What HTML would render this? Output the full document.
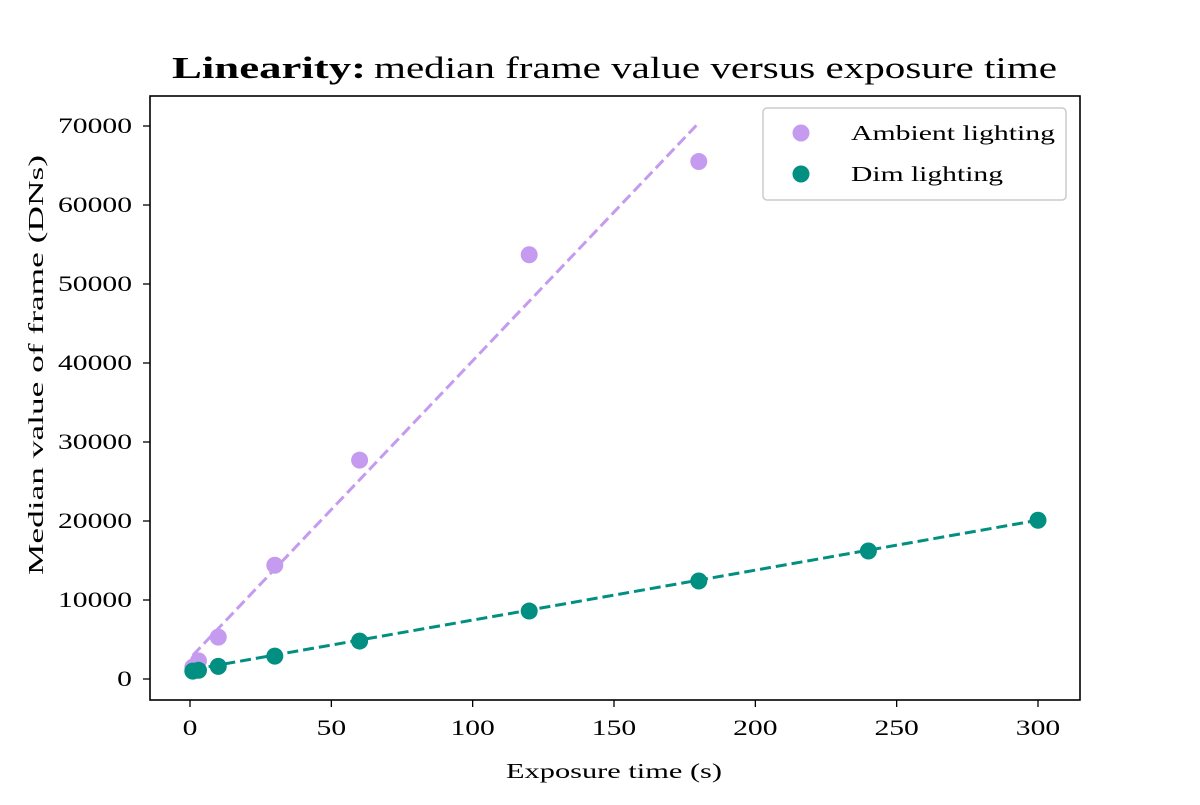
<!DOCTYPE html>
<html><head><meta charset="utf-8">
<style>
html,body{margin:0;padding:0;background:#fff;}
svg text{font-family:"Liberation Serif","DejaVu Serif",serif;fill:#000;}
</style></head>
<body>
<svg id="chart" width="1200" height="800" xmlns="http://www.w3.org/2000/svg">
<text y="78" font-size="31"><tspan x="172" font-weight="bold" textLength="194" lengthAdjust="spacingAndGlyphs">Linearity:</tspan><tspan x="374" textLength="683" lengthAdjust="spacingAndGlyphs">median frame value versus exposure time</tspan></text>
<g id="plot"></g>
<rect x="150" y="96" width="930" height="604" fill="none" stroke="#000" stroke-width="1.6"/>
<text x="506" y="778" font-size="21" textLength="216" lengthAdjust="spacingAndGlyphs">Exposure time (s)</text>
<text transform="translate(43,575) rotate(-90)" font-size="21" textLength="420" lengthAdjust="spacingAndGlyphs">Median value of frame (DNs)</text>
<g>
<rect x="763" y="108" width="303" height="92" rx="4" fill="#fff" stroke="#ccc" stroke-width="1.5"/>
<circle cx="801" cy="133" r="8.5" fill="#c59bf0"/>
<text x="851" y="140" font-size="21" textLength="204" lengthAdjust="spacingAndGlyphs">Ambient lighting</text>
<circle cx="801" cy="174" r="8.5" fill="#008f80"/>
<text x="851" y="181" font-size="21" textLength="152" lengthAdjust="spacingAndGlyphs">Dim lighting</text>
</g>
</svg>
<script>
const xTicks = [0,50,100,150,200,250,300];
const yTicks = [0,10000,20000,30000,40000,50000,60000,70000];
const ambientX = [1,3,10,30,60,120,180];
const ambientY = [1500,2300,5300,14400,27700,53700,65500];
const dimX = [1,3,10,30,60,120,180,240,300];
const dimY = [1000,1100,1600,2900,4800,8600,12400,16200,20100];
const ambientFitX = [1,180];
const ambientFitY = [3000,70400];
const dimFitX = [1,300];
const dimFitY = [1200,20100];

const NS='http://www.w3.org/2000/svg';
const sx = v => 190 + v*(1038-190)/300;
const sy = v => 679 - v*(679-126)/70000;
const g = document.getElementById('plot');
function mk(tag, attrs){const e=document.createElementNS(NS,tag);for(const k in attrs)e.setAttribute(k,attrs[k]);g.appendChild(e);return e;}
const DW = 14.8;

xTicks.forEach(t=>{
  const l=mk('line',{x1:sx(t),x2:sx(t),y1:700,y2:707,stroke:'#000','stroke-width':1.3});
  
  
  const n=String(t).length;
  const tx=mk('text',{x:sx(t)-n*DW/2,y:735,'font-size':22,textLength:n*DW,lengthAdjust:'spacingAndGlyphs'});
  tx.textContent=t;
  
  
});
yTicks.forEach(t=>{
  const l=mk('line',{x1:143,x2:150,y1:sy(t),y2:sy(t),stroke:'#000','stroke-width':1.3});
  
  
  const n=String(t).length;
  const tx=mk('text',{x:132-n*DW,y:sy(t)+7,'font-size':22,textLength:n*DW,lengthAdjust:'spacingAndGlyphs'});
  tx.textContent=t;
  
  
});

const af=mk('line',{x1:sx(ambientFitX[0]),y1:sy(ambientFitY[0]),x2:sx(ambientFitX[1]),y2:sy(ambientFitY[1]),stroke:'#c59bf0','stroke-width':3,'stroke-dasharray':'11,5'});



ambientX.forEach((x,i)=>{
  const c=mk('circle',{cx:sx(x),cy:sy(ambientY[i]),r:8.5,fill:'#c59bf0'});
  
  
});

const df=mk('line',{x1:sx(dimFitX[0]),y1:sy(dimFitY[0]),x2:sx(dimFitX[1]),y2:sy(dimFitY[1]),stroke:'#008f80','stroke-width':3,'stroke-dasharray':'11,5'});



dimX.forEach((x,i)=>{
  const c=mk('circle',{cx:sx(x),cy:sy(dimY[i]),r:8.5,fill:'#008f80'});
  
  
});
</script>
</body></html>
